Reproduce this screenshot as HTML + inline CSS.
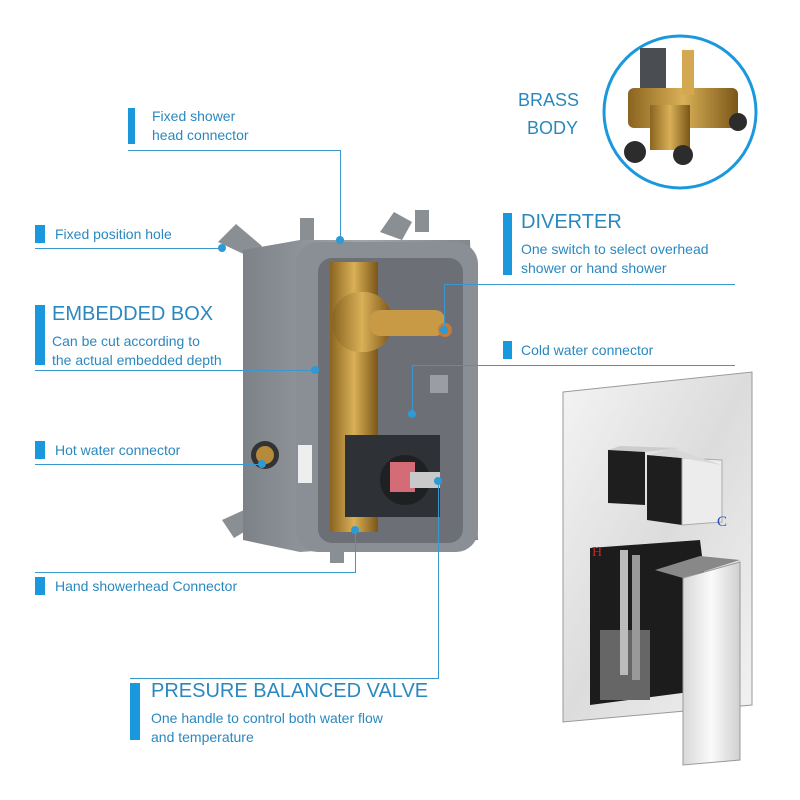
<!DOCTYPE html>
<html><head><style>
body{margin:0;width:800px;height:800px;background:#fff;position:relative;overflow:hidden;font-family:"Liberation Sans",sans-serif;}
.t{position:absolute;color:#2a88bf;font-size:14px;line-height:19px;white-space:nowrap}
.h{position:absolute;color:#2a88bf;font-size:20px;white-space:nowrap}
.b{position:absolute;background:#1a98de}
.l{position:absolute;background:#3a98cc}
</style></head><body>
<svg width="800" height="800" style="position:absolute;left:0;top:0">
<defs>
<linearGradient id="g1" x1="0" x2="1"><stop offset="0" stop-color="#7d8288"/><stop offset=".5" stop-color="#a0a5aa"/><stop offset="1" stop-color="#80858b"/></linearGradient>
<linearGradient id="br" x1="0" x2="1"><stop offset="0" stop-color="#8a6420"/><stop offset=".5" stop-color="#d9b057"/><stop offset="1" stop-color="#7a5618"/></linearGradient>
<linearGradient id="cr" x1="0" x2="1" y1="0" y2="1"><stop offset="0" stop-color="#f4f4f4"/><stop offset=".5" stop-color="#dcdcdc"/><stop offset="1" stop-color="#f2f2f2"/></linearGradient>
<linearGradient id="lv" x1="0" x2="1"><stop offset="0" stop-color="#d8d8d8"/><stop offset=".5" stop-color="#fafafa"/><stop offset="1" stop-color="#d0d0d0"/></linearGradient>
</defs>
<!-- brass body circle -->
<circle cx="680" cy="112" r="76" fill="#fff" stroke="#1a98de" stroke-width="3"/>
<rect x="628" y="88" width="110" height="40" rx="6" fill="url(#br)"/>
<rect x="650" y="105" width="40" height="45" fill="url(#br)"/>
<rect x="640" y="48" width="26" height="40" fill="#4a4d52"/>
<rect x="682" y="50" width="12" height="45" fill="#d4a850"/>
<circle cx="635" cy="152" r="11" fill="#2c2c2c"/><circle cx="683" cy="155" r="10" fill="#2c2c2c"/><circle cx="738" cy="122" r="9" fill="#2c2c2c"/>
<!-- box lugs -->
<g fill="#8a8f94">
<path d="M218 242 l18 -18 l26 22 l-10 12 z"/><path d="M300 240 v-22 h14 v22 z"/><path d="M380 232 l14 -20 l18 10 l-10 18 z"/><path d="M415 232 v-22 h14 v22 z"/>
<path d="M222 520 l22 -10 l10 16 l-20 12 z"/><path d="M330 545 v18 h14 v-18 z"/>
</g>
<path d="M243 250 L300 240 H470 L478 540 L300 552 L243 540 Z" fill="url(#g1)"/>
<rect x="296" y="242" width="182" height="310" rx="22" fill="#8a8f95"/>
<rect x="318" y="258" width="145" height="285" rx="14" fill="#6c7076"/>
<path d="M330 262 h48 v270 h-48 z" fill="url(#br)"/>
<rect x="332" y="292" width="60" height="60" rx="28" fill="url(#br)"/>
<rect x="370" y="310" width="75" height="26" rx="10" fill="#c89a45"/>
<circle cx="445" cy="330" r="7" fill="#c47a3a"/>
<rect x="430" y="375" width="18" height="18" fill="#9a9da1"/>
<rect x="345" y="435" width="95" height="82" fill="#2e3135"/>
<circle cx="405" cy="480" r="25" fill="#1e2022"/>
<rect x="390" y="462" width="25" height="30" fill="#d46c78"/>
<rect x="410" y="472" width="30" height="16" fill="#c9c9c9"/>
<circle cx="265" cy="455" r="14" fill="#333"/><circle cx="265" cy="455" r="9" fill="#b58a3a"/>
<rect x="298" y="445" width="14" height="38" fill="#eee"/>
<!-- trim -->
<path d="M563 392 L752 372 L752 705 L563 722 Z" fill="url(#cr)" stroke="#999"/>
<path d="M608 450 L645 448 L645 505 L608 503 Z" fill="#1e1e1e"/>
<path d="M608 450 L620 446 L680 448 L645 452 Z" fill="#ccc"/>
<path d="M647 455 L682 458 L682 525 L647 520 Z" fill="#1e1e1e"/>
<path d="M682 458 L722 460 L722 522 L682 525 Z" fill="#ececec" stroke="#aaa"/>
<path d="M650 455 L672 448 L722 465 L682 458 Z" fill="#d8d8d8"/>
<path d="M590 548 L700 540 L705 580 L705 690 L590 705 Z" fill="#1c1c1c"/>
<rect x="600" y="630" width="50" height="70" fill="#666"/>
<rect x="620" y="550" width="8" height="125" fill="#bbb"/>
<rect x="632" y="555" width="8" height="125" fill="#999"/>
<path d="M655 570 L700 556 L740 560 L683 578 Z" fill="#888"/>
<path d="M683 578 L740 562 L740 760 L683 765 Z" fill="url(#lv)" stroke="#999"/>
<text x="592" y="556" fill="#c22" font-size="14" font-family="Liberation Serif">H</text>
<text x="717" y="526" fill="#2a4cc0" font-size="15" font-family="Liberation Serif">C</text>
<!-- connector dots -->
<g fill="#2a9ad8">
<circle cx="340" cy="240" r="4"/><circle cx="222" cy="248" r="4"/><circle cx="315" cy="370" r="4"/><circle cx="262" cy="464" r="4"/>
<circle cx="355" cy="530" r="4"/><circle cx="438" cy="481" r="4"/><circle cx="444" cy="330" r="4"/><circle cx="412" cy="414" r="4"/>
</g>
</svg>
<div class="h" style="left:518px;top:90px;font-size:18px">BRASS</div>
<div class="h" style="left:527px;top:118px;font-size:18px">BODY</div>

<div class="b" style="left:128px;top:108px;width:7px;height:36px"></div>
<div class="t" style="left:152px;top:107px">Fixed shower<br>head connector</div>
<div class="l" style="left:128px;top:150px;width:213px;height:1px"></div>
<div class="l" style="left:340px;top:150px;width:1px;height:92px"></div>

<div class="b" style="left:35px;top:225px;width:10px;height:18px"></div>
<div class="t" style="left:55px;top:225px">Fixed position hole</div>
<div class="l" style="left:35px;top:248px;width:186px;height:1px"></div>

<div class="b" style="left:35px;top:305px;width:10px;height:60px"></div>
<div class="h" style="left:52px;top:303px">EMBEDDED BOX</div>
<div class="t" style="left:52px;top:332px">Can be cut according to<br>the actual embedded depth</div>
<div class="l" style="left:35px;top:370px;width:280px;height:1px"></div>

<div class="b" style="left:35px;top:441px;width:10px;height:18px"></div>
<div class="t" style="left:55px;top:441px">Hot water connector</div>
<div class="l" style="left:35px;top:464px;width:227px;height:1px"></div>

<div class="b" style="left:35px;top:577px;width:10px;height:18px"></div>
<div class="t" style="left:55px;top:577px">Hand showerhead Connector</div>
<div class="l" style="left:35px;top:572px;width:320px;height:1px"></div>
<div class="l" style="left:355px;top:530px;width:1px;height:43px"></div>

<div class="b" style="left:130px;top:683px;width:10px;height:57px"></div>
<div class="h" style="left:151px;top:680px">PRESURE BALANCED VALVE</div>
<div class="t" style="left:151px;top:709px">One handle to control both water flow<br>and temperature</div>
<div class="l" style="left:130px;top:678px;width:309px;height:1px"></div>
<div class="l" style="left:438px;top:480px;width:1px;height:199px"></div>

<div class="b" style="left:503px;top:213px;width:9px;height:62px"></div>
<div class="h" style="left:521px;top:211px">DIVERTER</div>
<div class="t" style="left:521px;top:240px">One switch to select overhead<br>shower or hand shower</div>
<div class="l" style="left:444px;top:284px;width:291px;height:1px"></div>
<div class="l" style="left:444px;top:284px;width:1px;height:46px"></div>

<div class="b" style="left:503px;top:341px;width:9px;height:18px"></div>
<div class="t" style="left:521px;top:341px">Cold water connector</div>
<div class="l" style="left:412px;top:365px;width:323px;height:1px"></div>
<div class="l" style="left:412px;top:365px;width:1px;height:50px"></div>
</body></html>
